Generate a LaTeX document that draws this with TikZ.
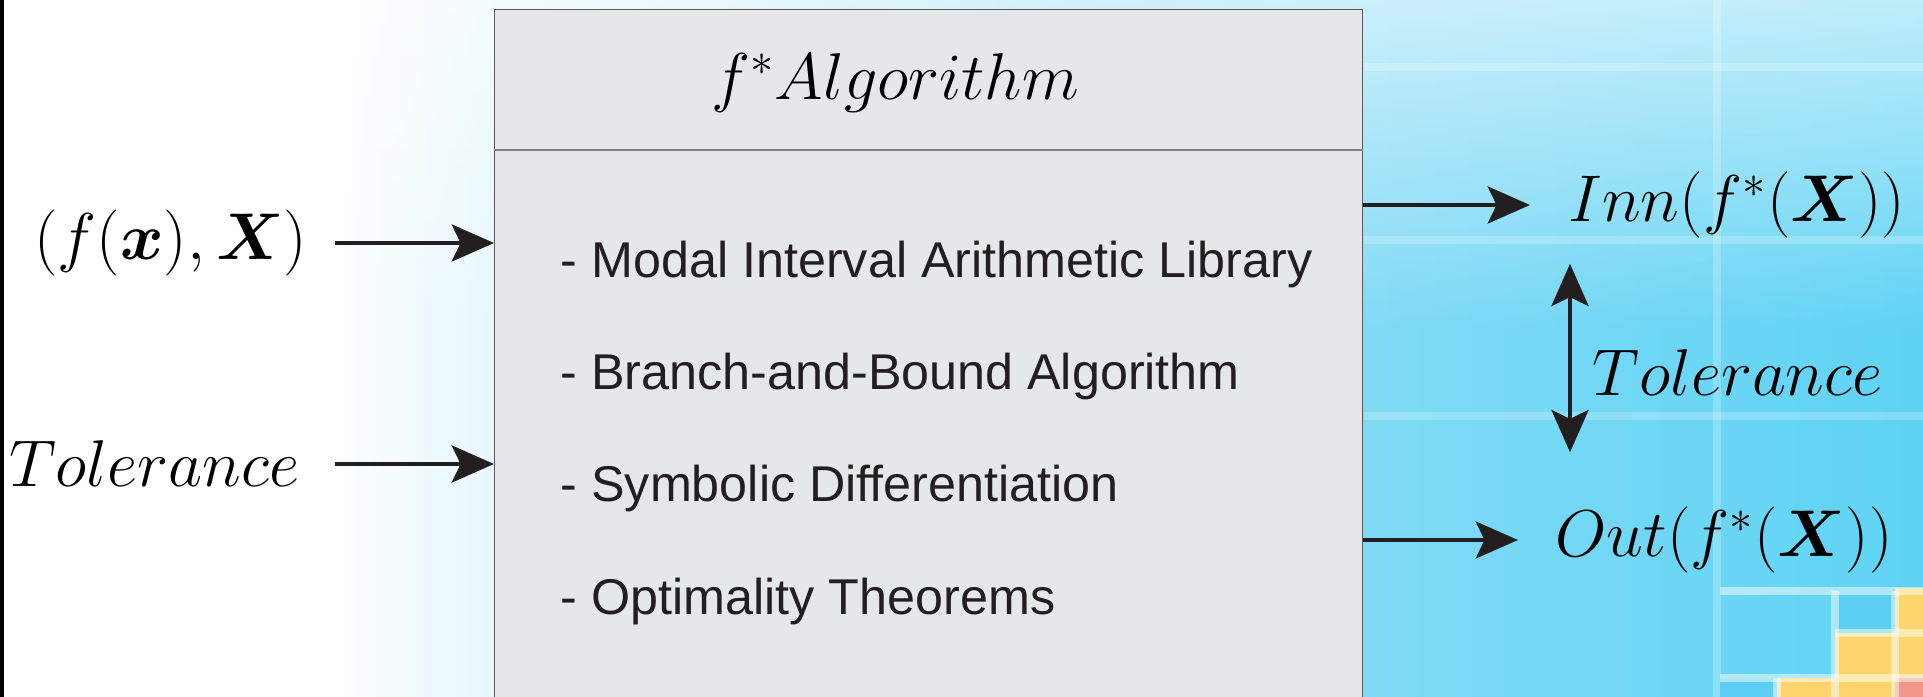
\RequirePackage{fix-cm}
\documentclass[tikz,border=0pt]{standalone}
\usepackage{amsmath,amssymb}
\usepackage{fontspec}
\setsansfont{Liberation Sans}
\usetikzlibrary{arrows.meta,positioning,fadings}

\definecolor{inkblack}{HTML}{231F20}
\definecolor{boxgray}{HTML}{E6E7E8}
\definecolor{boxline}{HTML}{58595B}
\definecolor{bgmid}{HTML}{8FDDF6}
\definecolor{bgright}{HTML}{5FD3F5}
\definecolor{tileblue}{HTML}{5CCDF3}
\definecolor{tileyellow}{HTML}{FDD56C}
\definecolor{tilered}{HTML}{F4958A}
\tikzfading[name=topfade, top color=transparent!40, bottom color=transparent!100]

\begin{document}
\begin{tikzpicture}[
  x=0.01cm, y=-0.01cm,
  lbl/.style={inner sep=0pt, text=black, font=\fontsize{18.8}{22}\selectfont},
  item/.style={anchor=base west, inner sep=0pt, text=inkblack,
               font=\sffamily\fontsize{14.3}{17}\selectfont},
  algobox/.style={draw=boxline, line width=0.4pt, fill=boxgray, inner sep=0pt,
                  minimum width=8.67cm, minimum height=7.2cm},
  arr/.style={-{Stealth[length=12pt, width=10.5pt, inset=2.5pt]},
              line width=1.4pt, draw=inkblack},
  darr/.style={{Stealth[length=12pt, width=10.5pt, inset=2.5pt]}-{Stealth[length=12pt, width=10.5pt, inset=2.5pt]},
               line width=1.4pt, draw=inkblack},
  grid/.style={white, line width=2.5pt, opacity=0.22},
]
\useasboundingbox (0,0) rectangle (1923,697);
\clip (0,0) rectangle (1923,697);

% slide background
\fill[white] (0,0) rectangle (1923,697);
\shade[left color=white, right color=bgmid] (320,0) rectangle (1100,697);
\shade[left color=bgmid, right color=bgright] (1100,0) rectangle (1923,697);
\fill[white, path fading=topfade] (300,0) rectangle (1923,330);
\draw[grid] (1364,67) -- (1923,67);
\draw[grid] (1364,240) -- (1923,240);
\draw[grid] (1364,416) -- (1923,416);
\draw[grid] (1717,0) -- (1717,697);
\fill[tileblue] (1835,588) rectangle (1895,633);
\fill[tileblue] (1720,678) rectangle (1777,697);
\fill[tileyellow] (1895,588) rectangle (1923,633);
\fill[tileyellow] (1835,633) rectangle (1923,678);
\fill[tileyellow] (1777,678) rectangle (1895,697);
\fill[tilered] (1895,678) rectangle (1923,697);
\draw[grid, opacity=0.5] (1720,591) -- (1923,591);
\draw[grid, opacity=0.5] (1835,633) -- (1923,633);
\draw[grid, opacity=0.5] (1720,678) -- (1923,678);
\draw[grid, opacity=0.5] (1835,591) -- (1835,697);
\draw[grid, opacity=0.5] (1895,591) -- (1895,697);
\draw[grid, opacity=0.5] (1777,678) -- (1777,697);
\fill[black] (0,0) rectangle (4,697);

% algorithm box
\node[algobox, anchor=north west] (algo) at (494,9) {};
\node[lbl] (head) at (895,83) {$f^*Algorithm$};
\coordinate (split) at (0,150);
\draw[gray, line width=0.7pt] (algo.west |- split) -- (algo.east |- split);
\foreach \t [count=\i] in {- Modal Interval Arithmetic Library,
  - Branch-and-Bound Algorithm, - Symbolic Differentiation,
  - Optimality Theorems}
  \node[item] (item\i) at (560,{277+112.4*(\i-1)}) {\t};

% inputs
\node[lbl, anchor=east] (fx) at (308,243) {$(f(\boldsymbol{x}),\boldsymbol{X})$};
\node[lbl, anchor=east] (tolin) at (300,464) {$Tolerance$};
\draw[arr, shorten <=0.27cm] (fx.east) -- (fx.east -| algo.west);
\draw[arr, shorten <=0.35cm] (tolin.east) -- (tolin.east -| algo.west);

% outputs
\node[lbl, anchor=west] (inn) at (1568,205) {$Inn(f^*(\boldsymbol{X}))$};
\node[lbl, anchor=west] (out) at (1555,540) {$Out(f^*(\boldsymbol{X}))$};
\draw[arr, shorten >=0.38cm] (algo.east |- inn.west) -- (inn.west);
\draw[arr, shorten >=0.37cm] (algo.east |- out.west) -- (out.west);
\draw[darr, shorten <=0.25cm, shorten >=0.54cm] ([xshift=0.02cm]inn.south west)
  -- node[lbl, midway, anchor=west, xshift=0.2cm] (tolout) {$Tolerance$}
  ([xshift=0.02cm]inn.south west |- out.north);
\end{tikzpicture}
\end{document}
